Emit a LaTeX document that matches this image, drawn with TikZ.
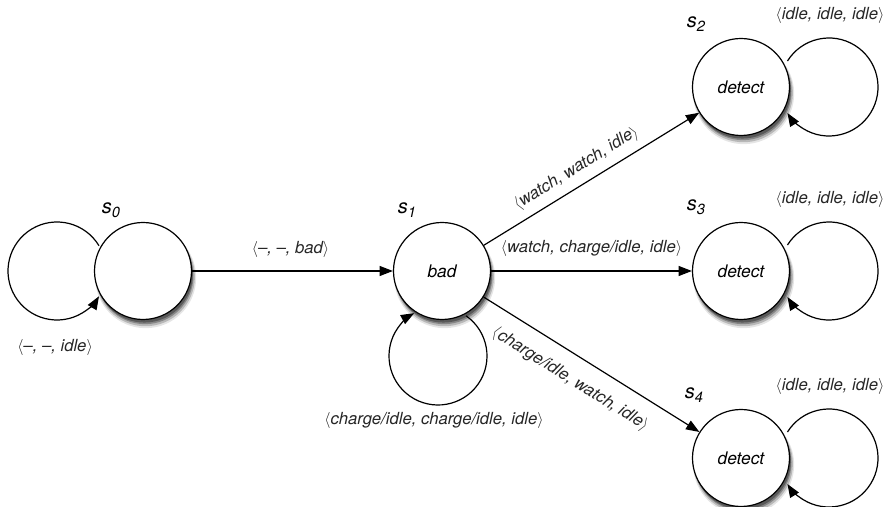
\documentclass[tikz,border=0pt]{standalone}
\usepackage{fontspec}
\setmainfont{TeX Gyre Heros}
\usetikzlibrary{arrows.meta,calc}
\newcommand{\sidx}[1]{\raisebox{-0.4ex}{\fontsize{11}{12}\selectfont #1}}
\newcommand{\lt}{$\langle$}
\newcommand{\rt}{$\rangle$}
\begin{document}
\begin{tikzpicture}[x=0.75pt,y=0.75pt,
  state/.style={circle, draw, line width=0.9pt, fill=white, minimum size=72.75pt, inner sep=0pt,
    font=\fontsize{13}{15}\selectfont\itshape,
    preaction={fill=black!10, draw=black!10, line width=3pt, transform canvas={xshift=2pt, yshift=-5pt}},
    preaction={fill=black!28, draw=black!28, line width=1.5pt, transform canvas={xshift=1.8pt, yshift=-4.3pt}},
    preaction={fill=black!48, transform canvas={xshift=1.5pt, yshift=-3.5pt}},
    preaction={fill=black!65, transform canvas={xshift=1pt, yshift=-2.3pt}}},
  lbl/.style={font=\fontsize{12.5}{14}\selectfont\itshape, inner sep=1pt, text=black!85},
  sname/.style={font=\fontsize{15}{17}\selectfont\itshape, inner sep=0pt},
  conn/.style={line width=0.9pt, -{Triangle[length=10pt,width=7.5pt]}},
]
\useasboundingbox (0,0) rectangle (886,507);

\node[state] (s0) at (143,236) {};
\node[state] (s1) at (442,236) {bad};
\node[state] (s2) at (741,420) {detect};
\node[state] (s3) at (741,236) {detect};
\node[state] (s4) at (741,49) {detect};

\node[sname] (n0) at ($(s0)+(-32,61)$) {s\sidx{0}};
\node[sname] (n1) at ($(s1)+(-35,61)$) {s\sidx{1}};
\node[sname] (n2) at ($(s2)+(-45,63)$) {s\sidx{2}};
\node[sname] (n3) at ($(s3)+(-45,64)$) {s\sidx{3}};
\node[sname] (n4) at ($(s4)+(-47,63)$) {s\sidx{4}};

\draw[conn] (s0) -- node[lbl, above=8.6pt, pos=0.49] {\lt--, --, bad\rt} (s1);
\draw[conn] (s1) -- node[lbl, sloped, above=5pt, pos=0.47] {\lt watch, watch, idle\rt} (s2);
\draw[conn] (s1) -- node[lbl, above=9.3pt] {\lt watch, charge/idle, idle\rt} (s3);
\draw[conn] (s1) -- node[lbl, sloped, below=10.5pt, pos=0.46] {\lt charge/idle, watch, idle\rt} (s4);

\draw[conn] ($(s0)+(-86,0)+(31:49)$) arc[start angle=31, end angle=329, radius=49];
\draw[conn] ($(s1)+(-4,-85)+(55:49)$) arc[start angle=55, end angle=-241, radius=49];
\draw[conn] ($(s2)+(88,0)+(148:49)$) arc[start angle=148, end angle=-148, radius=49];
\draw[conn] ($(s3)+(88,0)+(148:49)$) arc[start angle=148, end angle=-148, radius=49];
\draw[conn] ($(s4)+(88,0)+(148:49)$) arc[start angle=148, end angle=-148, radius=49];

\node[lbl] (l0) at ($(s0)+(-88,-76)$) {\lt--, --, idle\rt};
\node[lbl] (l1) at ($(s1)+(-8,-149)$) {\lt charge/idle, charge/idle, idle\rt};
\node[lbl] (l2) at ($(s2)+(89,72)$) {\lt idle, idle, idle\rt};
\node[lbl] (l3) at ($(s3)+(89,72)$) {\lt idle, idle, idle\rt};
\node[lbl] (l4) at ($(s4)+(89,72)$) {\lt idle, idle, idle\rt};
\end{tikzpicture}
\end{document}
